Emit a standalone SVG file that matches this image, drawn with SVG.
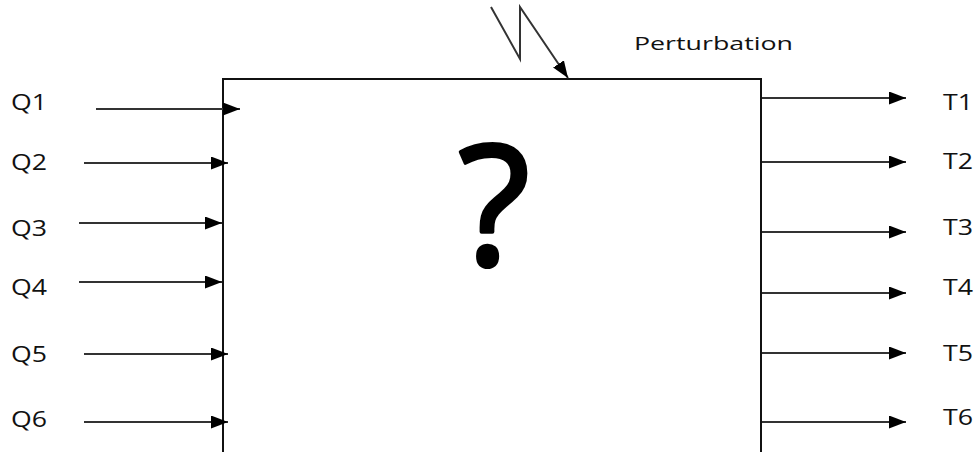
<svg xmlns="http://www.w3.org/2000/svg" width="977" height="452" viewBox="0 0 977 452">
<defs>
<marker id="ah" markerUnits="userSpaceOnUse" markerWidth="18" markerHeight="14" refX="17" refY="6.5" orient="auto">
<path d="M0,0 L17,6.5 L0,13 Z" fill="#000"/>
</marker>
<style>
.lbl{font-family:"Open Sans","Liberation Sans",sans-serif;font-size:22px;fill:#111}
.pert{font-family:"Open Sans","Liberation Sans",sans-serif;font-size:19px;fill:#111}
.q{font-family:"Open Sans","Liberation Sans",sans-serif;font-size:166px;fill:#000;stroke:#000;stroke-width:4;stroke-linejoin:round}
.ln{stroke:#333;stroke-width:2;fill:none}
</style>
</defs>
<rect width="977" height="452" fill="#fff"/>
<g id="system">
<path d="M223,460 L223,79 L761,79 L761,460" fill="none" stroke="#111" stroke-width="2"/>
<text class="q" x="494" y="265" text-anchor="middle">?</text>
</g>
<g id="inputs">
<text class="lbl" x="11" y="110" textLength="36" lengthAdjust="spacingAndGlyphs">Q1</text>
<text class="lbl" x="11" y="170" textLength="36" lengthAdjust="spacingAndGlyphs">Q2</text>
<text class="lbl" x="11" y="236" textLength="36" lengthAdjust="spacingAndGlyphs">Q3</text>
<text class="lbl" x="11" y="295" textLength="36" lengthAdjust="spacingAndGlyphs">Q4</text>
<text class="lbl" x="11" y="362" textLength="36" lengthAdjust="spacingAndGlyphs">Q5</text>
<text class="lbl" x="11" y="427" textLength="36" lengthAdjust="spacingAndGlyphs">Q6</text>
</g>
<g id="outputs">
<text class="lbl" x="943" y="110" textLength="30" lengthAdjust="spacingAndGlyphs">T1</text>
<text class="lbl" x="943" y="169" textLength="30" lengthAdjust="spacingAndGlyphs">T2</text>
<text class="lbl" x="943" y="235" textLength="30" lengthAdjust="spacingAndGlyphs">T3</text>
<text class="lbl" x="943" y="295" textLength="30" lengthAdjust="spacingAndGlyphs">T4</text>
<text class="lbl" x="943" y="361" textLength="30" lengthAdjust="spacingAndGlyphs">T5</text>
<text class="lbl" x="943" y="425" textLength="30" lengthAdjust="spacingAndGlyphs">T6</text>
</g>
<g id="perturbation">
<text class="pert" x="634" y="50" textLength="159" lengthAdjust="spacingAndGlyphs">Perturbation</text>
</g>
<g id="connectors">
<line class="ln" x1="96" y1="109" x2="240" y2="109" marker-end="url(#ah)"/>
<line class="ln" x1="84" y1="163" x2="228" y2="163" marker-end="url(#ah)"/>
<line class="ln" x1="79" y1="223" x2="222" y2="223" marker-end="url(#ah)"/>
<line class="ln" x1="79" y1="282" x2="222" y2="282" marker-end="url(#ah)"/>
<line class="ln" x1="84" y1="354" x2="228" y2="354" marker-end="url(#ah)"/>
<line class="ln" x1="84" y1="422" x2="228" y2="422" marker-end="url(#ah)"/>
<line class="ln" x1="762" y1="98" x2="906" y2="98" marker-end="url(#ah)"/>
<line class="ln" x1="762" y1="162" x2="906" y2="162" marker-end="url(#ah)"/>
<line class="ln" x1="762" y1="232" x2="906" y2="232" marker-end="url(#ah)"/>
<line class="ln" x1="762" y1="293" x2="906" y2="293" marker-end="url(#ah)"/>
<line class="ln" x1="762" y1="353" x2="906" y2="353" marker-end="url(#ah)"/>
<line class="ln" x1="762" y1="422" x2="906" y2="422" marker-end="url(#ah)"/>
<polyline class="ln" points="491,7 520,59 520,7 568,78" marker-end="url(#ah)"/>
</g>
</svg>
